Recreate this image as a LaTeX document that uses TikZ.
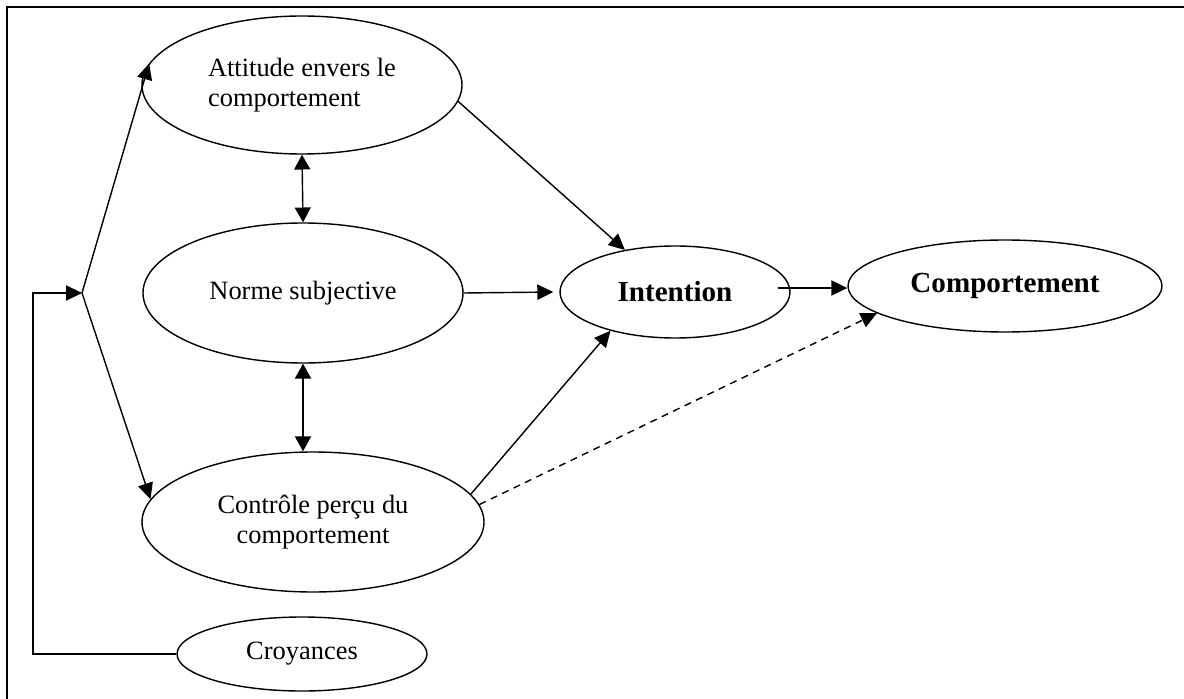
\documentclass[tikz,border=0pt]{standalone}
\usepackage{fontspec}
\setmainfont{Liberation Serif}
\usepackage{xcolor}
\usepackage{tikz}
\usetikzlibrary{calc,shapes.geometric,arrows.meta}

\begin{document}
\begin{tikzpicture}
            \tikzstyle{every node}+=[inner sep=0pt]
            \tikzstyle{bulle}=[draw, ellipse, line width=1pt, align=center, font=\fontsize{18.8}{21.2}\selectfont]
            \tikzstyle{grasse}=[font=\fontsize{20.7}{24}\selectfont\bfseries]
            \tikzstyle{fleche}=[black, line width=1pt, -{Triangle[length=0.4cm,width=0.38cm]}]
            \tikzstyle{dfleche}=[black, line width=1pt, {Triangle[length=0.37cm,width=0.4cm]}-{Triangle[length=0.37cm,width=0.4cm]}]
            \useasboundingbox (0,0) rectangle (29.6,-17.475);
            \draw [black, line width=1.4pt] (0.175,-17.475) -- (0.175,-0.175) -- (29.6,-0.175);
            \node [bulle, align=left, minimum width=8cm, minimum height=3.45cm] (att) at (7.55,-2.125) {Attitude envers le\\comportement};
            \node [bulle, minimum width=8cm, minimum height=3.5cm] (norme) at (7.575,-7.325) {Norme subjective};
            \node [bulle, minimum width=8.55cm, minimum height=3.5cm] (ctrl) at (7.825,-13.05) {Contrôle perçu du\\comportement};
            \node [bulle, minimum width=6.25cm, minimum height=1.85cm] (croy) at (7.55,-16.35) {Croyances};
            \node [bulle, grasse, minimum width=5.75cm, minimum height=2.3cm] (int) at (16.875,-7.3) {Intention};
            \node [bulle, grasse, minimum width=7.85cm, minimum height=2.3cm] (comp) at (25.125,-7.15) {Comportement};
            \coordinate (fork) at (2.05,-7.325);
            \coordinate (retour) at (0.825,-16.35);
            \coordinate (intout) at ([xshift=-0.33cm,yshift=0.1cm]int.east);
            % croyances back to the fork
            \draw [fleche] (croy.west) -- (retour) |- (fork);
            \draw [fleche] (fork) -- (att.172);
            \draw [fleche] (fork) -- (ctrl.172);
            \draw [dfleche] (att.south) -- (norme.north);
            \draw [dfleche] (norme.south) -- (norme.south |- ctrl.north);
            % towards intention
            \draw [fleche] (att.354) -- (int.140);
            \draw [fleche] (norme.east) -- ([xshift=-0.15cm]int.west);
            \draw [fleche] (ctrl.10.5) -- (int.211);
            \draw [fleche] (intout) -- (intout -| comp.west);
            \draw [fleche, dash pattern=on 5pt off 4pt] (ctrl.6.6) -- (comp.192);
\end{tikzpicture}
\end{document}
